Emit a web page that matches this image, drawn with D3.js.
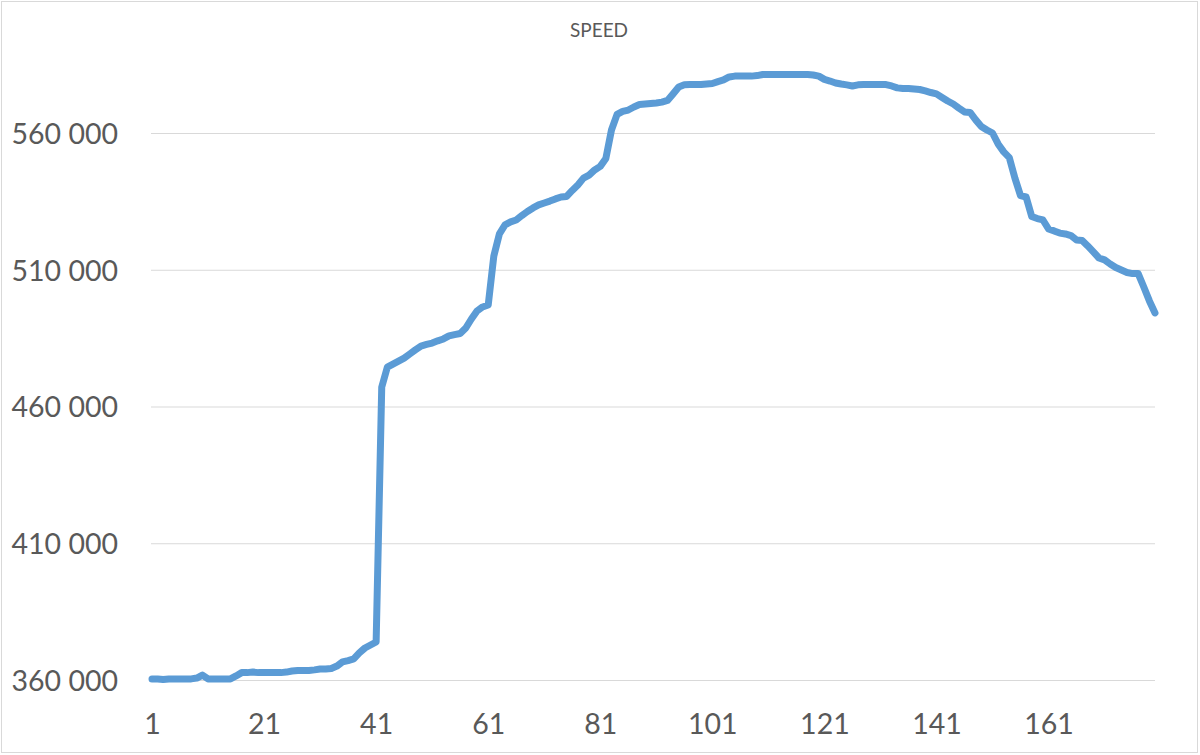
<!DOCTYPE html>
<html>
<head>
<meta charset="utf-8">
<script src="https://cdn.jsdelivr.net/npm/d3@7"></script>
<style>
  html, body { margin: 0; padding: 0; background: #fff; }
  svg { display: block; }
  text { font-family: Lato, "Open Sans", sans-serif; fill: #595959; }
</style>
</head>
<body>
<svg id="chart" width="1200" height="755"></svg>
<script>
const title = "SPEED";
const speed = [
  360400, 360400, 360200, 360400, 360400, 360400, 360400, 360400, 360700, 361800,
  360400, 360400, 360400, 360400, 360400, 361500, 362700, 362700, 362900, 362700,
  362700, 362700, 362700, 362700, 362900, 363300, 363500, 363500, 363500, 363700,
  364000, 364000, 364200, 365100, 366600, 367100, 367700, 369900, 371700, 372800,
  373900, 467100, 474400, 475500, 476600, 477700, 479200, 480700, 482100, 482700,
  483200, 484000, 484700, 485800, 486300, 486700, 488700, 492000, 494900, 496400,
  497100, 515000, 523100, 526400, 527500, 528200, 529800, 531300, 532600, 533700,
  534400, 535100, 535900, 536600, 536800, 539000, 541000, 543500, 544600, 546500,
  547800, 550700, 561100, 566800, 567900, 568400, 569500, 570400, 570600, 570800,
  571000, 571300, 571900, 574300, 576800, 577600, 577700, 577700, 577700, 577900,
  578100, 578800, 579400, 580500, 580800, 580800, 580800, 580800, 581000, 581400,
  581400, 581400, 581400, 581400, 581400, 581400, 581400, 581400, 581200, 580800,
  579600, 579000, 578300, 577900, 577600, 577200, 577600, 577700, 577700, 577700,
  577700, 577700, 577200, 576500, 576300, 576300, 576100, 575900, 575400, 574800,
  574300, 573000, 571700, 570600, 569100, 567700, 567500, 564800, 562400, 561100,
  560000, 556000, 553100, 551000, 543500, 537100, 536600, 529500, 528700, 528200,
  524900, 524200, 523400, 523100, 522500, 520900, 520700, 518700, 516500, 514300,
  513600, 512100, 510800, 509900, 509000, 508600, 508600, 503700, 498600, 494200
];
const categories = speed.map((d, i) => i + 1);
const xTickValues = [1, 21, 41, 61, 81, 101, 121, 141, 161];
const yTickValues = [360000, 410000, 460000, 510000, 560000];
const yDomain = [360000, 600000];

const svg = d3.select("#chart");
const W = 1200, H = 755;

// chart area border
svg.append("rect")
  .attr("x", 1.5).attr("y", 1.5)
  .attr("width", W - 4).attr("height", H - 4)
  .attr("fill", "#fff").attr("stroke", "#d9d9d9").attr("stroke-width", 1);

const x = d3.scaleLinear().domain([1, categories.length]).range([152, 1155]);
const y = d3.scaleLinear().domain(yDomain).range([680, 680 - (yDomain[1] - yDomain[0]) * 547 / 200000]);

const fmt = v => d3.format(",")(v).replace(/,/g, " ");

// gridlines
svg.append("g")
  .attr("transform", "translate(151,0)")
  .call(d3.axisLeft(y).tickValues(yTickValues).tickSize(-(1155 - 151)).tickFormat(""))
  .call(g => g.select(".domain").remove())
  .call(g => g.selectAll("line").attr("stroke", "#d9d9d9").attr("stroke-width", 1));

// y labels
svg.append("g")
  .attr("transform", "translate(118,0)")
  .call(d3.axisLeft(y).tickValues(yTickValues).tickSize(0).tickPadding(0).tickFormat(fmt))
  .call(g => g.select(".domain").remove())
  .call(g => g.selectAll("text")
    .style("font-size", "28.5px").attr("fill", "#595959").attr("dy", "0.36em"));

// x labels
svg.append("g")
  .attr("transform", "translate(0,680)")
  .call(d3.axisBottom(x).tickValues(xTickValues).tickSize(0).tickPadding(0).tickFormat(d3.format("d")))
  .call(g => g.select(".domain").remove())
  .call(g => g.selectAll("text")
    .style("font-size", "28.5px").attr("fill", "#595959").attr("dy", "0").attr("y", 54));

// line
svg.append("path")
  .datum(speed)
  .attr("fill", "none")
  .attr("stroke", "#5b9bd5")
  .attr("stroke-width", 7)
  .attr("stroke-linejoin", "round")
  .attr("stroke-linecap", "round")
  .attr("d", d3.line().x((d, i) => x(categories[i])).y(d => y(d)));

// title
svg.append("text")
  .attr("x", 599).attr("y", 37)
  .attr("text-anchor", "middle")
  .style("font-size", "19px")
  .text(title);
</script>
</body>
</html>
